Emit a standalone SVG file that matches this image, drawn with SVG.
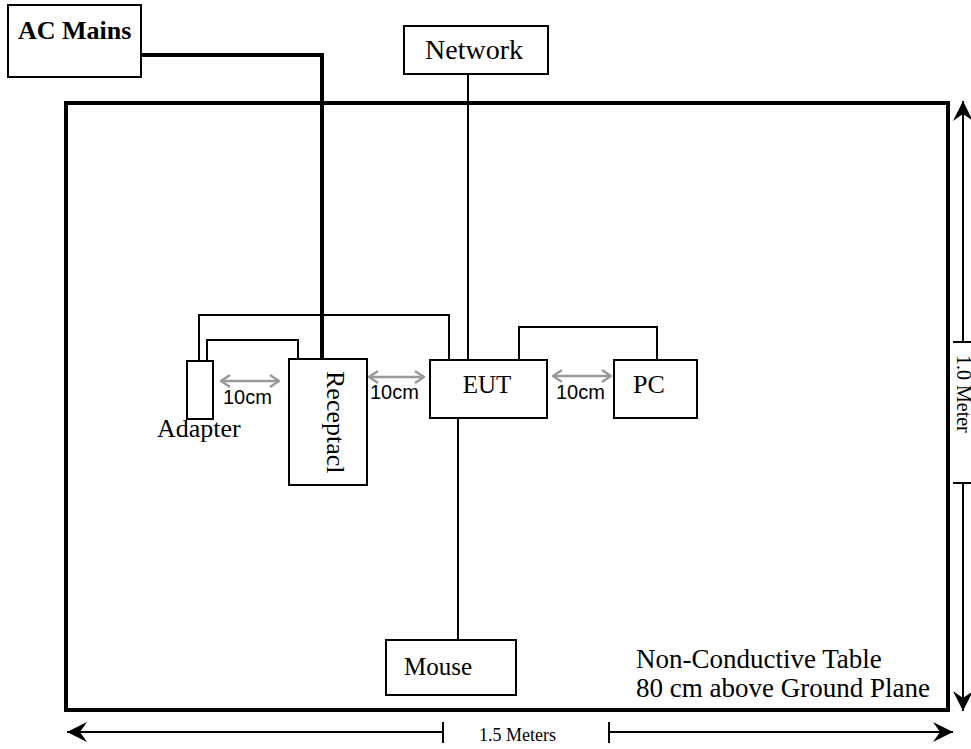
<svg xmlns="http://www.w3.org/2000/svg" width="971" height="749" viewBox="0 0 971 749">
<defs>
<style>
.box{fill:#fff;stroke:#000;stroke-width:2}
.table{fill:none;stroke:#000;stroke-width:4}
.wire{fill:none;stroke:#000;stroke-width:2}
.power{fill:none;stroke:#000;stroke-width:4}
.gap{fill:none;stroke:#999;stroke-width:2.5;marker-start:url(#gh);marker-end:url(#gh)}
.dim{fill:none;stroke:#000;stroke-width:2}
.t{font-family:"Liberation Serif","Times New Roman",serif;font-size:24px;fill:#000}
.s{font-family:"Liberation Sans",Arial,sans-serif;font-size:20px;fill:#000}
</style>
<marker id="gh" viewBox="-12 -8 13 16" markerWidth="13" markerHeight="16" refX="0" refY="0" orient="auto-start-reverse" markerUnits="userSpaceOnUse">
<path d="M-9,-6 L0,0 L-9,6" fill="none" stroke="#999" stroke-width="2.5"/>
</marker>
<marker id="dh" viewBox="-21 -11 22 22" markerWidth="22" markerHeight="22" refX="0" refY="0" orient="auto" markerUnits="userSpaceOnUse">
<path d="M0,0 L-20,-10 L-13,0 L-20,10 Z" fill="#000"/>
</marker>
</defs>

<rect id="table" class="table" x="66" y="103" width="882" height="607"/>

<g id="connectors">
<path class="power" d="M141,55 H322 V359"/>
<path class="wire" d="M468,74 V360"/>
<path class="wire" d="M199,361 V315 H449 V360"/>
<path class="wire" d="M207,361 V340 H298 V359"/>
<path class="wire" d="M519,360 V327 H657 V360"/>
<path class="wire" d="M458,418 V640"/>
<line class="gap" x1="221" y1="381" x2="279" y2="381"/>
<line class="gap" x1="369" y1="377" x2="424" y2="377"/>
<line class="gap" x1="553" y1="376" x2="611" y2="376"/>
</g>

<g id="ac-mains">
<rect class="box" x="8" y="5" width="133" height="72"/>
<text class="t" x="18" y="39" style="font-weight:bold;font-size:26px">AC Mains</text>
</g>

<g id="network">
<rect class="box" x="404" y="26" width="144" height="48"/>
<text class="t" x="474" y="59" text-anchor="middle" style="font-size:28px">Network</text>
</g>

<g id="adapter">
<rect class="box" x="187" y="361" width="26" height="58"/>
<text class="t" x="157" y="437" style="font-size:26px">Adapter</text>
</g>

<g id="receptacle">
<rect class="box" x="289" y="359" width="78" height="126"/>
<text class="t" transform="translate(327,371) rotate(90)" style="font-size:26px">Receptacl</text>
</g>

<g id="eut">
<rect class="box" x="430" y="360" width="117" height="58"/>
<text class="t" x="487" y="393" text-anchor="middle" style="font-size:25px">EUT</text>
</g>

<g id="pc">
<rect class="box" x="614" y="360" width="83" height="58"/>
<text class="t" x="633" y="393" style="font-size:26px">PC</text>
</g>

<g id="mouse">
<rect class="box" x="386" y="640" width="130" height="55"/>
<text class="t" x="404" y="675" style="font-size:25px">Mouse</text>
</g>

<g id="labels">
<text class="s" x="223" y="404">10cm</text>
<text class="s" x="370" y="399">10cm</text>
<text class="s" x="556" y="399">10cm</text>
<text class="t" x="636" y="668" style="font-size:27px">Non-Conductive Table</text>
<text class="t" x="636" y="697" style="font-size:27px">80 cm above Ground Plane</text>
</g>

<g id="dimensions">
<line class="dim" x1="443" y1="732" x2="67" y2="732" marker-end="url(#dh)"/>
<line class="dim" x1="443" y1="722" x2="443" y2="743"/>
<line class="dim" x1="609" y1="732" x2="953" y2="732" marker-end="url(#dh)"/>
<line class="dim" x1="609" y1="722" x2="609" y2="743"/>
<text class="t" x="479" y="741" style="font-size:18px">1.5 Meters</text>
<line class="dim" x1="963" y1="342" x2="963" y2="101" marker-end="url(#dh)"/>
<line class="dim" x1="953" y1="342" x2="973" y2="342"/>
<line class="dim" x1="963" y1="483" x2="963" y2="711" marker-end="url(#dh)"/>
<line class="dim" x1="953" y1="483" x2="973" y2="483"/>
<text class="t" transform="translate(957,355) rotate(90)" style="font-size:20px">1.0 Meter</text>
</g>
</svg>
